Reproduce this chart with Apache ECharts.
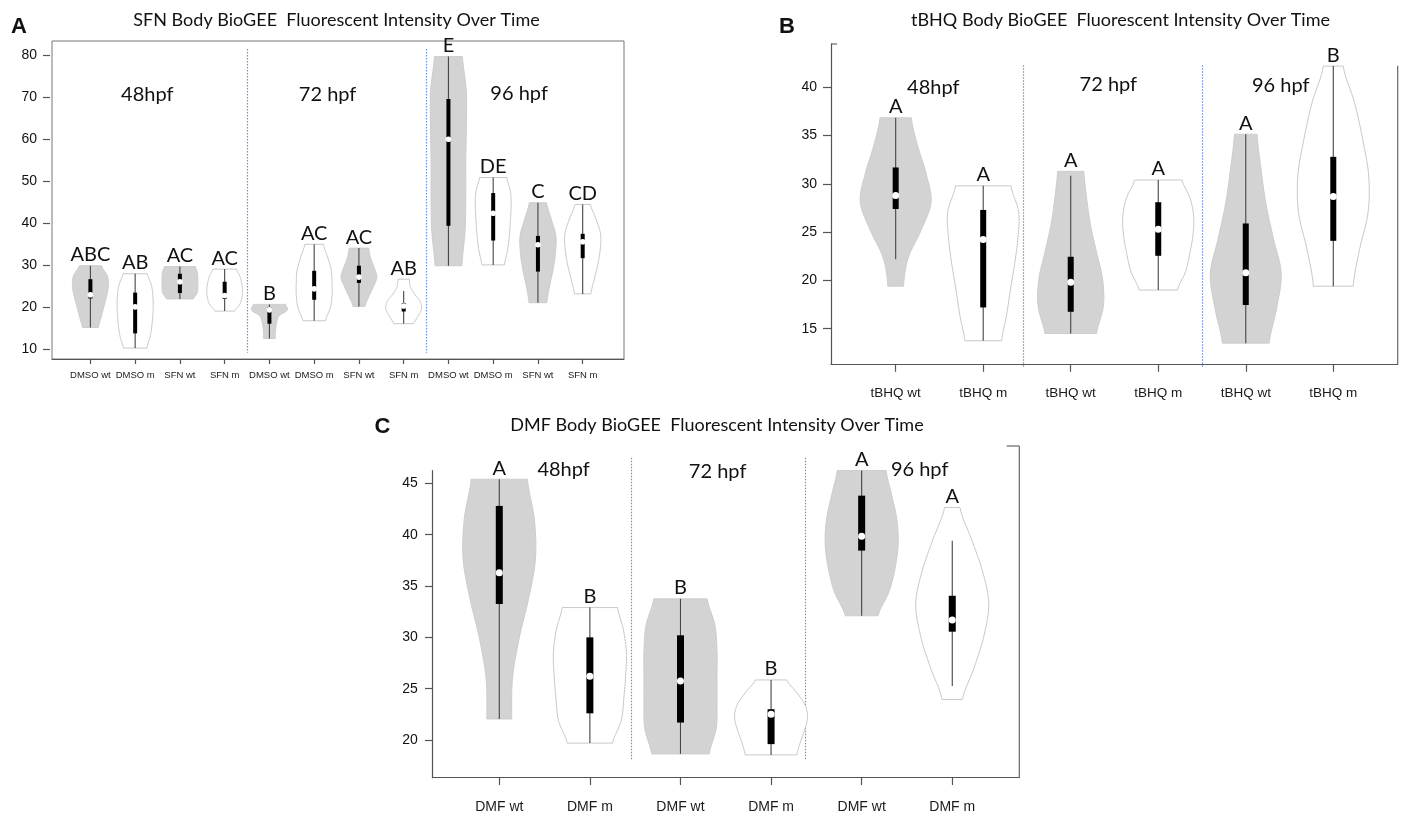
<!DOCTYPE html>
<html>
<head>
<meta charset="utf-8">
<title>BioGEE Fluorescent Intensity Over Time</title>
<script src="https://cdn.jsdelivr.net/npm/echarts@6/dist/echarts.min.js"></script>
<style>
  html, body { margin: 0; padding: 0; background: #fff; }
  #chart { width: 1406px; height: 817px; }
</style>
</head>
<body>
<div id="chart"></div>
<script>
// ---- data ----
// A: SFN
const catsA = ['DMSO wt', 'DMSO m', 'SFN wt', 'SFN m', 'DMSO wt', 'DMSO m', 'SFN wt', 'SFN m', 'DMSO wt', 'DMSO m', 'SFN wt', 'SFN m'];
const lettersA = ['ABC', 'AB', 'AC', 'AC', 'B', 'AC', 'AC', 'AB', 'E', 'DE', 'C', 'CD'];
const loA = [15.1, 10.2, 21.9, 19.0, 12.5, 16.7, 20.1, 16.0, 29.8, 30.0, 21.0, 23.1];
const hiA = [29.8, 27.9, 29.6, 29.0, 20.6, 34.9, 34.0, 26.6, 79.6, 50.8, 44.8, 44.4];
const q1A = [22.0, 13.7, 23.3, 21.9, 16.0, 21.7, 25.7, 18.9, 39.3, 35.8, 28.4, 31.6];
const medA = [22.9, 20.0, 26.0, 22.7, 19.3, 24.3, 27.1, 20.2, 59.9, 42.3, 34.8, 35.5];
const q3A = [26.6, 23.4, 27.9, 26.0, 19.9, 28.6, 29.8, 20.9, 69.5, 47.1, 36.9, 37.4];
const whLoA = [15.1, 10.2, 21.9, 19.0, 12.5, 16.7, 20.1, 16.0, 29.8, 30.0, 21.0, 23.1];
const whHiA = [29.8, 27.9, 29.6, 29.0, 20.6, 34.9, 34.0, 23.8, 79.6, 50.8, 44.8, 44.4];
// relative half-widths of each violin, bottom to top
const shapeA = [
  [0.45, 0.6, 0.75, 0.9, 1.0, 0.95, 0.62],
  [0.66, 0.85, 0.95, 1.0, 1.0, 0.92, 0.68],
  [0.75, 0.95, 1.0, 1.0, 1.0, 0.97, 0.87],
  [0.55, 0.85, 0.97, 1.0, 0.95, 0.85, 0.66],
  [0.33, 0.33, 0.36, 0.42, 0.55, 1.0, 0.9],
  [0.63, 0.9, 1.0, 1.0, 0.95, 0.75, 0.52],
  [0.33, 0.55, 0.8, 1.0, 0.85, 0.65, 0.55],
  [0.56, 0.8, 1.0, 0.92, 0.6, 0.37, 0.32],
  [0.75, 0.93, 0.97, 0.97, 1.0, 1.0, 0.78],
  [0.63, 0.8, 0.9, 0.96, 1.0, 0.97, 0.76],
  [0.5, 0.65, 0.85, 0.98, 1.0, 0.75, 0.48],
  [0.46, 0.65, 0.85, 0.98, 1.0, 0.75, 0.43]
];
const yTicksA = [10, 20, 30, 40, 50, 60, 70, 80];

// B: tBHQ
const catsB = ['tBHQ wt', 'tBHQ m', 'tBHQ wt', 'tBHQ m', 'tBHQ wt', 'tBHQ m'];
const lettersB = ['A', 'A', 'A', 'A', 'A', 'B'];
const loB = [19.4, 13.75, 14.5, 19.0, 13.5, 19.4];
const hiB = [36.85, 29.8, 31.3, 30.4, 35.15, 42.2];
const q1B = [27.4, 17.2, 16.75, 22.55, 17.45, 24.1];
const medB = [28.8, 24.25, 19.8, 25.3, 20.8, 28.7];
const q3B = [31.7, 27.3, 22.45, 28.1, 25.9, 32.8];
const whLoB = [22.2, 13.75, 14.5, 19.0, 13.5, 19.4];
const whHiB = [36.85, 29.8, 30.85, 30.4, 35.15, 42.2];
const shapeB = [
  [0.22, 0.35, 0.72, 1.0, 0.86, 0.62, 0.44],
  [0.52, 0.66, 0.77, 0.89, 0.98, 1.0, 0.78],
  [0.73, 0.92, 0.9, 0.73, 0.56, 0.45, 0.37],
  [0.54, 0.77, 0.89, 0.98, 1.0, 0.9, 0.67],
  [0.66, 0.87, 1.0, 0.78, 0.57, 0.43, 0.32],
  [0.56, 0.74, 0.98, 1.0, 0.83, 0.6, 0.28]
];
const yTicksB = [15, 20, 25, 30, 35, 40];

// C: DMF
const catsC = ['DMF wt', 'DMF m', 'DMF wt', 'DMF m', 'DMF wt', 'DMF m'];
const lettersC = ['A', 'B', 'B', 'B', 'A', 'A'];
const loC = [22.05, 19.7, 18.65, 18.55, 32.1, 23.95];
const hiC = [45.4, 32.9, 33.75, 25.85, 46.25, 42.65];
const q1C = [33.25, 22.6, 21.7, 19.6, 38.45, 30.55];
const medC = [36.3, 26.2, 25.75, 22.5, 39.85, 31.7];
const q3C = [42.8, 30.0, 30.2, 23.0, 43.8, 34.05];
const whLoC = [22.05, 19.7, 18.65, 18.55, 32.1, 25.25];
const whHiC = [45.4, 32.9, 33.75, 25.85, 46.25, 39.4];
const shapeC = [
  [0.34, 0.36, 0.54, 0.8, 0.99, 0.96, 0.77],
  [0.62, 0.86, 0.93, 0.98, 1.0, 0.92, 0.76],
  [0.79, 0.98, 1.0, 1.0, 1.0, 0.94, 0.73],
  [0.71, 0.8, 0.92, 1.0, 0.93, 0.7, 0.43],
  [0.45, 0.75, 0.92, 1.0, 0.96, 0.82, 0.67],
  [0.28, 0.6, 0.87, 1.0, 0.83, 0.53, 0.21]
];
const yTicksC = [20, 25, 30, 35, 40, 45];

const phaseNames = ['48hpf', '72 hpf', '96 hpf'];

// ---- layout per panel ----
const panels = [
  {
    cats: catsA, letters: lettersA, lo: loA, hi: hiA, q1: q1A, med: medA, q3: q3A,
    whLo: whLoA, whHi: whHiA, shape: shapeA, yTicks: yTicksA,
    grid: { left: 52, top: 41, width: 572, height: 318 },
    xMin: 0.142, xMax: 12.923, yMin: 7.6, yMax: 83.3, frame: true,
    yOffset: 2, yMargin: 13, yTick: 7, xTick: 5, xFont: 9.5, xMargin: 11,
    halfWidth: 0.4, boxW: 4, medR: 2.8,
    seps: [4.5, 8.5], sepTop: 81.4, sepBottom: 9.1,
    phaseX: [2.27, 6.3, 10.58], phaseY: [70.5, 70.5, 70.9]
  },
  {
    cats: catsB, letters: lettersB, lo: loB, hi: hiB, q1: q1B, med: medB, q3: q3B,
    whLo: whLoB, whHi: whHiB, shape: shapeB, yTicks: yTicksB,
    grid: { left: 831, top: 44, width: 566.7, height: 320.3 },
    xMin: 0.261, xMax: 6.736, yMin: 11.31, yMax: 44.49, frame: false,
    yOffset: 0, yMargin: 14, yTick: 8, xTick: 7.5, xFont: 13.5, xMargin: 22,
    halfWidth: 0.405, boxW: 6, medR: 3.5,
    seps: [2.46, 4.5], sepTop: 42.3, sepBottom: 11.0,
    phaseX: [1.43, 3.43, 5.4], phaseY: [40.0, 40.3, 40.2]
  },
  {
    cats: catsC, letters: lettersC, lo: loC, hi: hiC, q1: q1C, med: medC, q3: q3C,
    whLo: whLoC, whHi: whHiC, shape: shapeC, yTicks: yTicksC,
    grid: { left: 432.7, top: 470.7, width: 586.6, height: 307 },
    xMin: 0.265, xMax: 6.74, yMin: 16.33, yMax: 46.23, frame: false,
    yOffset: 0, yMargin: 15, yTick: 7.7, xTick: 7.3, xFont: 14, xMargin: 22,
    halfWidth: 0.403, boxW: 7, medR: 3.5,
    seps: [2.45, 4.38], sepTop: 47.5, sepBottom: 18.1,
    phaseX: [1.71, 3.41, 5.64], phaseY: [46.3, 46.1, 46.3]
  }
];

// Catmull-Rom through the sampled widths, t in [0,1]
function shapeAt(s, t) {
  const n = s.length - 1;
  const f = t * n;
  let i = Math.floor(f);
  if (i >= n) i = n - 1;
  const u = f - i;
  const p0 = s[Math.max(i - 1, 0)], p1 = s[i], p2 = s[i + 1], p3 = s[Math.min(i + 2, n)];
  return 0.5 * (2 * p1 + (-p0 + p2) * u + (2 * p0 - 5 * p1 + 4 * p2 - p3) * u * u +
    (-p0 + 3 * p1 - 3 * p2 + p3) * u * u * u);
}

function textEl(text, x, y, font, vAlign) {
  return {
    type: 'text',
    style: {
      text: text, x: x, y: y, font: font, fill: '#111',
      align: 'center', verticalAlign: vAlign,
      textAlign: 'center', textVerticalAlign: vAlign
    }
  };
}

function violinItem(p, i, api) {
  const pos = api.value(0);
  const unit = api.size([1, 0])[0];
  const half = p.halfWidth * unit;
  const lo = p.lo[i], hi = p.hi[i];
  const right = [], left = [];
  const N = 48;
  for (let k = 0; k <= N; k++) {
    const t = k / N;
    const pt = api.coord([pos, lo + (hi - lo) * t]);
    const w = Math.max(0.02, shapeAt(p.shape[i], t)) * half;
    right.push([pt[0] + w, pt[1]]);
    left.push([pt[0] - w, pt[1]]);
  }
  const isWt = /wt$/.test(p.cats[i]);
  const top = api.coord([pos, hi]);
  const wLo = api.coord([pos, p.whLo[i]]);
  const wHi = api.coord([pos, p.whHi[i]]);
  const b1 = api.coord([pos, p.q1[i]]);
  const b3 = api.coord([pos, p.q3[i]]);
  const m = api.coord([pos, p.med[i]]);
  return {
    type: 'group',
    children: [
      {
        type: 'polygon',
        shape: { points: right.concat(left.reverse()) },
        style: { fill: isWt ? '#d3d3d3' : '#ffffff', stroke: isWt ? '#cdcdcd' : '#c9c9c9', lineWidth: 1 }
      },
      {
        type: 'line',
        shape: { x1: wLo[0], y1: wLo[1], x2: wHi[0], y2: wHi[1] },
        style: { stroke: '#444', lineWidth: 1.1 }
      },
      {
        type: 'rect',
        shape: { x: b3[0] - p.boxW / 2, y: b3[1], width: p.boxW, height: b1[1] - b3[1] },
        style: { fill: '#000' }
      },
      {
        type: 'circle',
        shape: { cx: m[0], cy: m[1], r: p.medR },
        style: { fill: '#fff' }
      },
      textEl(p.letters[i], top[0], top[1] - 1, '20px Lato', 'bottom')
    ]
  };
}

const grids = [], xAxes = [], yAxes = [], series = [];
panels.forEach(function (p, k) {
  const xs = p.cats.map(function (c, i) { return i + 1; });
  grids.push({
    left: p.grid.left, top: p.grid.top, width: p.grid.width, height: p.grid.height,
    show: p.frame, borderColor: '#777', borderWidth: 1, backgroundColor: 'transparent'
  });
  xAxes.push({
    gridIndex: k, type: 'value', min: p.xMin, max: p.xMax,
    splitLine: { show: false },
    axisLine: { show: true, onZero: false, lineStyle: { color: '#555', width: 1.2 } },
    axisTick: { show: true, customValues: xs, length: p.xTick, lineStyle: { color: '#555', width: 1.2 } },
    axisLabel: {
      show: true, customValues: xs,
      formatter: function (v) { return p.cats[Math.round(v) - 1] || ''; },
      fontSize: p.xFont, fontFamily: 'Liberation Sans', color: '#1a1a1a', margin: p.xMargin
    }
  });
  yAxes.push({
    gridIndex: k, type: 'value', min: p.yMin, max: p.yMax, offset: p.yOffset,
    splitLine: { show: false },
    axisLine: { show: !p.frame, onZero: false, lineStyle: { color: '#555', width: 1.2 } },
    axisTick: { show: true, customValues: p.yTicks, length: p.yTick, lineStyle: { color: '#555', width: 1.2 } },
    axisLabel: {
      show: true, customValues: p.yTicks,
      fontSize: 14, fontFamily: 'Liberation Sans', color: '#111', margin: p.yMargin
    }
  });
  // separators between time points
  series.push({
    type: 'custom', xAxisIndex: k, yAxisIndex: k, clip: false, silent: true,
    data: p.seps.map(function (x) { return [x, p.sepTop, p.sepBottom]; }),
    renderItem: function (params, api) {
      const a = api.coord([api.value(0), api.value(1)]);
      const b = api.coord([api.value(0), api.value(2)]);
      return {
        type: 'line',
        shape: { x1: Math.round(a[0]) + 0.5, y1: a[1], x2: Math.round(b[0]) + 0.5, y2: b[1] },
        style: { stroke: '#6a90e0', lineWidth: 1.2, lineDash: [1.5, 1.5] }
      };
    }
  });
  // violins
  series.push({
    type: 'custom', xAxisIndex: k, yAxisIndex: k, clip: false, silent: true,
    data: xs.map(function (x, i) { return [x, p.lo[i], p.hi[i]]; }),
    encode: { x: 0, y: [1, 2] },
    renderItem: function (params, api) { return violinItem(p, params.dataIndex, api); }
  });
  // time point labels
  series.push({
    type: 'custom', xAxisIndex: k, yAxisIndex: k, clip: false, silent: true,
    data: p.phaseX.map(function (x, j) { return [x, p.phaseY[j]]; }),
    renderItem: function (params, api) {
      const c = api.coord([api.value(0), api.value(1)]);
      return textEl(phaseNames[params.dataIndex], c[0], c[1], '20px Lato', 'middle');
    }
  });
});

const titleFont = '18px Lato';
const letterFont = 'bold 22px "Liberation Sans"';
function gText(text, x, y, font) {
  return {
    type: 'text', silent: true,
    style: { text: text, x: x, y: y, font: font, fill: '#111', textAlign: 'center', textVerticalAlign: 'middle', align: 'center', verticalAlign: 'middle' }
  };
}
function gLine(x1, y1, x2, y2) {
  return { type: 'line', silent: true, shape: { x1: x1, y1: y1, x2: x2, y2: y2 }, style: { stroke: '#666', lineWidth: 1.2 } };
}

const chart = echarts.init(document.getElementById('chart'));
chart.setOption({
  animation: false,
  backgroundColor: '#ffffff',
  grid: grids,
  xAxis: xAxes,
  yAxis: yAxes,
  series: series,
  graphic: [
    gText('SFN Body BioGEE  Fluorescent Intensity Over Time', 336.5, 20, titleFont),
    gText('tBHQ Body BioGEE  Fluorescent Intensity Over Time', 1120.5, 20, titleFont),
    gText('DMF Body BioGEE  Fluorescent Intensity Over Time', 717, 425, titleFont),
    gText('A', 19, 27, letterFont),
    gText('B', 787, 27, letterFont),
    gText('C', 382.5, 427, letterFont),
    gLine(831, 44, 837, 44),
    gLine(1397.7, 65.7, 1397.7, 364.3),
    gLine(1006.7, 446, 1019.3, 446),
    gLine(1019.3, 446, 1019.3, 777.7)
  ]
});
window.addEventListener('resize', function () { chart.resize(); });
</script>
</body>
</html>
